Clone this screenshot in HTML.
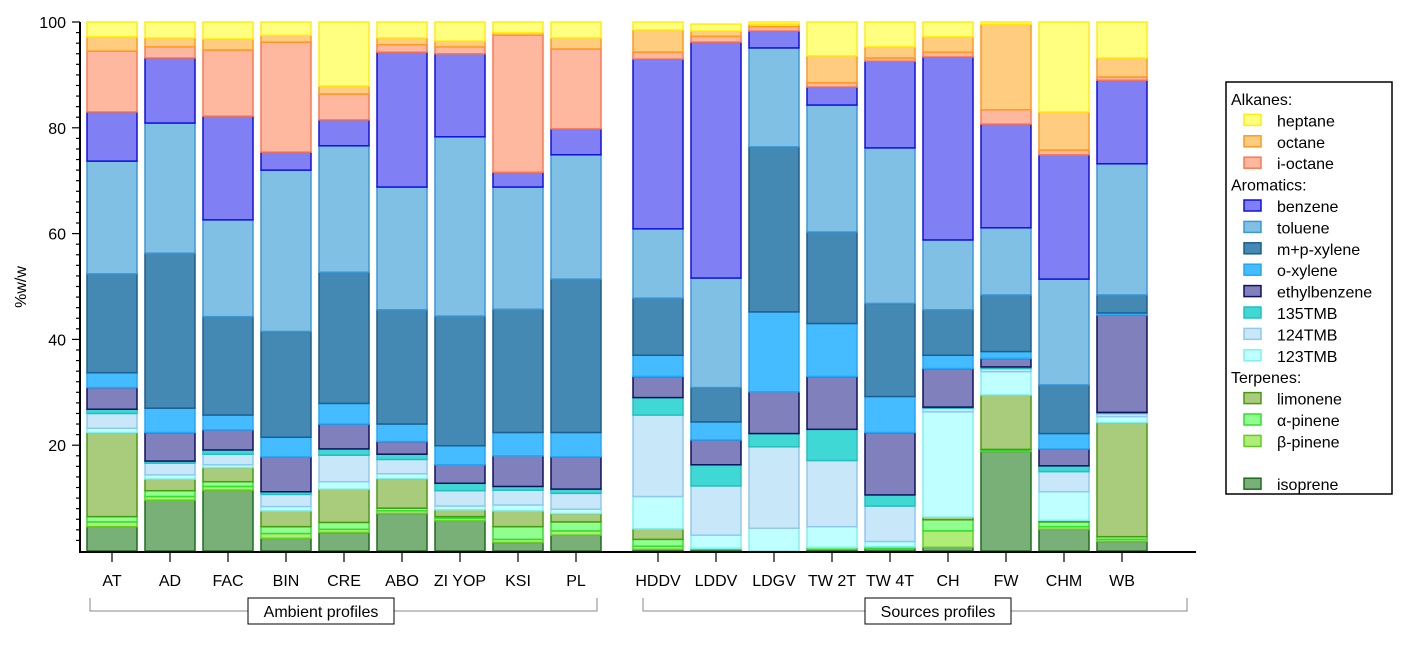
<!DOCTYPE html>
<html><head><meta charset="utf-8"><style>
body{margin:0;background:#fff;}
svg text{font-family:"Liberation Sans",Arial,sans-serif;}
</style></head><body>
<svg id="chart" width="1409" height="643" viewBox="0 0 1409 643" xmlns="http://www.w3.org/2000/svg">
<g id="bars"></g>
<g id="axes"></g>
<g id="legend"></g>
</svg>
<script>
const categories = ["AT","AD","FAC","BIN","CRE","ABO","ZI YOP","KSI","PL","HDDV","LDDV","LDGV","TW 2T","TW 4T","CH","FW","CHM","WB"];
const seriesNames = ["isoprene","β-pinene","α-pinene","limonene","123TMB","124TMB","135TMB","ethylbenzene","o-xylene","m+p-xylene","toluene","benzene","i-octane","octane","heptane"];
const isoprene     = [4.6,9.6,11.5,2.4,3.5,7.1,5.7,1.6,3.0, 0.3,0.3,0,0.3,0.5,0.7,18.8,4.1,1.8];
const betaPinene   = [0.9,0.7,0.7,0.9,0.6,0.5,0.5,0.6,0.8, 0.6,0,0,0,0,3.1,0.2,0.5,0.4];
const alphaPinene  = [1.0,1.1,0.9,1.3,1.3,0.5,0.3,2.4,1.7, 1.3,0.2,0,0.4,0.3,2.1,0.2,0.9,0.5];
const limonene     = [15.9,2.2,2.7,3.0,6.3,5.6,1.3,3.0,1.6, 2.0,0,0,0,0,0.5,10.3,0.3,21.6];
const tmb123       = [0.8,0.8,0.5,0.8,1.4,0.9,0.7,1.1,0.8, 6.1,2.5,4.3,3.9,1.0,19.9,4.4,5.4,1.1];
const tmb124       = [2.8,2.2,2.0,2.3,5.0,2.7,2.9,2.8,3.0, 15.4,9.3,15.4,12.5,6.7,0.7,0.6,3.8,0.6];
const tmb135       = [0.8,0.4,0.8,0.5,1.2,1.0,1.4,0.7,0.8, 3.3,4.0,2.5,5.9,2.1,0.2,0.3,1.1,0.2];
const ethylbenzene = [4.1,5.4,3.8,6.6,4.7,2.4,3.5,5.8,6.1, 4.0,4.7,7.9,10.0,11.8,7.3,1.6,3.2,18.4];
const oXylene      = [2.8,4.6,2.8,3.7,3.9,3.3,3.6,4.4,4.6, 4.0,3.4,15.1,10.0,6.8,2.5,1.3,2.9,0.4];
const mpXylene     = [18.7,29.3,18.6,20.0,24.8,21.6,24.5,23.3,29.0, 10.8,6.5,31.2,17.3,17.6,8.6,10.7,9.2,3.4];
const toluene      = [21.3,24.6,18.3,30.5,23.9,23.2,33.9,23.1,23.5, 13.1,20.7,18.7,24.0,29.4,13.2,12.7,20.0,24.8];
const benzene      = [9.3,12.3,19.6,3.4,4.9,25.5,15.7,2.8,4.9, 32.1,44.6,3.2,3.4,16.4,34.6,19.6,23.5,15.8];
const iOctane      = [11.5,2.1,12.5,20.8,4.9,1.4,1.3,25.9,15.1, 1.3,1.1,0.8,0.8,0.6,0.9,2.7,0.9,0.6];
const octane       = [2.7,1.7,2.1,1.3,1.5,1.3,1.1,0.5,2.1, 4.2,1.0,0.5,5.1,2.1,2.9,16.2,7.2,3.6];
const heptane      = [2.8,3.0,3.2,2.5,12.1,3.0,3.6,2.0,3.0, 1.5,1.3,0.4,6.4,4.7,2.8,0.4,17.0,6.8];
const yTicks = [20,40,60,80,100];

const series = [isoprene,betaPinene,alphaPinene,limonene,tmb123,tmb124,tmb135,ethylbenzene,oXylene,mpXylene,toluene,benzene,iOctane,octane,heptane];
const fills  = ["#78b078","#b0ec78","#90ff90","#a8cc7c","#c0ffff","#c8e8fa","#40d8d4","#8080bc","#44bcff","#4488b4","#80c0e4","#8080f4","#ffb8a0","#ffcc80","#ffff80"];
const strokes= ["#1e6e1e","#60d020","#30e030","#4a9a10","#80f0f0","#90c8f0","#20c0c0","#101060","#20a8f8","#1c5e8c","#3a98d8","#1010e0","#ff7850","#ff9a20","#ffee10"];

const NS="http://www.w3.org/2000/svg";
const y0=551, pxPer=5.29;
function yScale(v){return y0 - v*pxPer;}
function xCenter(i){return i<9 ? 112+i*58 : 658+(i-9)*58;}
const barW=50;

const gb=document.getElementById('bars');
categories.forEach((c,i)=>{
  let cum=0;
  series.forEach((s,k)=>{
    const v=s[i];
    if(v<=0){return;}
    const r=document.createElementNS(NS,'rect');
    r.setAttribute('x',xCenter(i)-barW/2);
    r.setAttribute('y',yScale(cum+v));
    r.setAttribute('width',barW);
    r.setAttribute('height',v*pxPer);
    r.setAttribute('fill',fills[k]);
    r.setAttribute('stroke',strokes[k]);
    r.setAttribute('stroke-width','1.5');
    
    
    gb.appendChild(r);
    cum+=v;
  });
});

const ga=document.getElementById('axes');
function el(tag,attrs,text){const e=document.createElementNS(NS,tag);for(const a in attrs)e.setAttribute(a,attrs[a]);if(text!==undefined)e.textContent=text;return e;}
let e;
e=el('line',{x1:80,y1:22,x2:80,y2:552,stroke:'#000','stroke-width':2});


ga.appendChild(e);
e=el('line',{x1:79,y1:552,x2:1196,y2:552,stroke:'#000','stroke-width':2});


ga.appendChild(e);
for(let v=2;v<=100;v+=2){
  const major=v%20===0;
  const t=el('line',{x1:major?72:76,y1:yScale(v),x2:80,y2:yScale(v),stroke:'#000','stroke-width':1.2});
  
  
  ga.appendChild(t);
}
yTicks.forEach(v=>{
  const t=el('text',{x:66,y:yScale(v)+6,'text-anchor':'end','font-size':16},String(v));
  
  
  ga.appendChild(t);
});
e=el('text',{x:26,y:287,'text-anchor':'middle','font-size':16,transform:'rotate(-90 26 287)'},'%w/w');


ga.appendChild(e);
categories.forEach((c,i)=>{
  const t=el('line',{x1:xCenter(i),y1:552,x2:xCenter(i),y2:562,stroke:'#000','stroke-width':1.2});
  
  
  ga.appendChild(t);
  const l=el('text',{x:xCenter(i),y:586,'text-anchor':'middle','font-size':16},c);
  
  
  ga.appendChild(l);
});
function bracket(x1,x2,cx,label,name){
  const p=el('path',{d:`M${x1},598 V611 H${x2} V598`,fill:'none',stroke:'#888','stroke-width':1});
  
  
  ga.appendChild(p);
  const w=146;
  const r=el('rect',{x:cx-w/2,y:598,width:w,height:26,fill:'#fff',stroke:'#000','stroke-width':1});
  
  
  ga.appendChild(r);
  const t=el('text',{x:cx,y:617,'text-anchor':'middle','font-size':16},label);
  
  
  ga.appendChild(t);
}
bracket(90,597,321,'Ambient profiles','ambient-profiles');
bracket(643,1187,938,'Sources profiles','sources-profiles');

const gl=document.getElementById('legend');
e=el('rect',{x:1226,y:82,width:166,height:412,fill:'#fff',stroke:'#000','stroke-width':1.5});


gl.appendChild(e);
const legendRows=[["h","Alkanes:"],[14,"heptane"],[13,"octane"],[12,"i-octane"],["h","Aromatics:"],[11,"benzene"],[10,"toluene"],[9,"m+p-xylene"],[8,"o-xylene"],[7,"ethylbenzene"],[6,"135TMB"],[5,"124TMB"],[4,"123TMB"],["h","Terpenes:"],[3,"limonene"],[2,"α-pinene"],[1,"β-pinene"],[null,""],[0,"isoprene"]];
legendRows.forEach((r,j)=>{
  const y=105+j*21.4;
  if(r[0]==="h"){
    const t=el('text',{x:1231,y:y,'font-size':16},r[1]);
    
    
    gl.appendChild(t);
  } else if(r[0]!==null){
    const k=r[0];
    const s=el('rect',{x:1244,y:y-12,width:17,height:11,fill:fills[k],stroke:strokes[k],'stroke-width':1.5});
    
    
    gl.appendChild(s);
    const t=el('text',{x:1277,y:y,'font-size':16},r[1]);
    
    
    gl.appendChild(t);
  }
});
</script>
</body></html>
